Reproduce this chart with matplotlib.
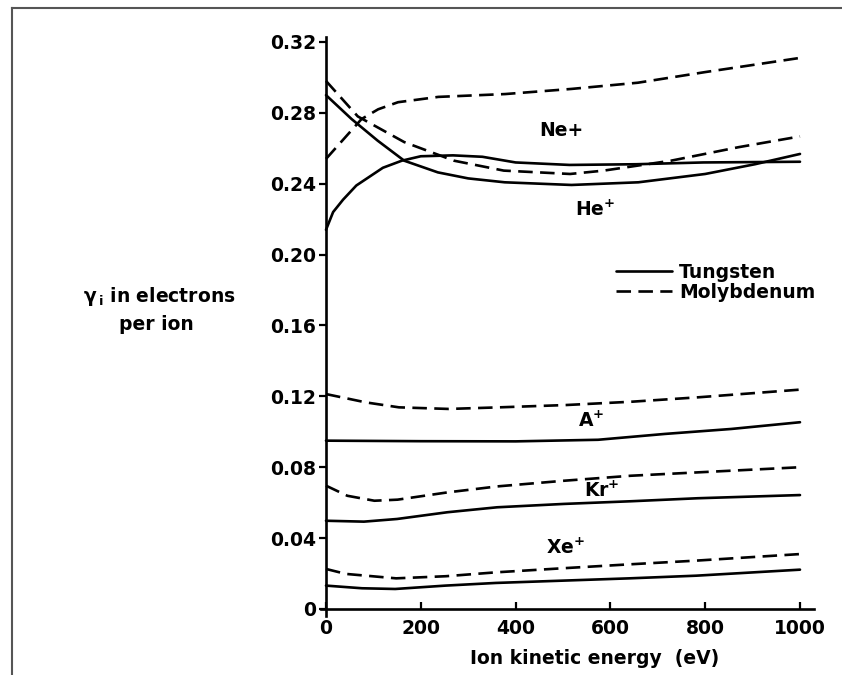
import matplotlib
matplotlib.use("Agg")
import matplotlib.pyplot as plt
from matplotlib.lines import Line2D

# ---- data ----
he_w_E = [0, 54, 109, 165, 236, 300, 377, 518, 659, 800, 905, 1000]
he_w_g = [0.290, 0.2765, 0.2643, 0.253, 0.2464, 0.243, 0.2408, 0.2393, 0.2408, 0.2455, 0.251, 0.2568]

he_mo_E = [0, 67, 165, 270, 375, 515, 586, 728, 870, 1000]
he_mo_g = [0.298, 0.278, 0.2635, 0.253, 0.2474, 0.2455, 0.2474, 0.253, 0.2606, 0.2667]

ne_mo_E = [0, 40, 75, 110, 152, 237, 378, 518, 658, 800, 1000]
ne_mo_g = [0.254, 0.266, 0.2765, 0.282, 0.286, 0.289, 0.2906, 0.2935, 0.297, 0.303, 0.311]

ne_w_E = [0, 15, 36, 64, 92, 120, 160, 200, 268, 330, 400, 514, 655, 796, 1000]
ne_w_g = [0.214, 0.224, 0.231, 0.239, 0.244, 0.249, 0.253, 0.2555, 0.256, 0.2552, 0.252, 0.2506, 0.251, 0.252, 0.2524]

a_mo_E = [0, 84, 154, 259, 365, 506, 646, 787, 1000]
a_mo_g = [0.1213, 0.1166, 0.1138, 0.1129, 0.1138, 0.1151, 0.117, 0.1195, 0.1238]

a_w_E = [0, 200, 400, 574, 715, 855, 1000]
a_w_g = [0.095, 0.0947, 0.0946, 0.0955, 0.0988, 0.1016, 0.1054]

kr_mo_E = [0, 45, 102, 151, 256, 362, 503, 643, 784, 1000]
kr_mo_g = [0.0696, 0.0639, 0.0611, 0.0617, 0.0658, 0.0692, 0.0724, 0.0752, 0.0771, 0.080]

kr_w_E = [0, 80, 150, 256, 361, 502, 643, 784, 1000]
kr_w_g = [0.0498, 0.0493, 0.0508, 0.0546, 0.0574, 0.0593, 0.0608, 0.0625, 0.0643]

xe_mo_E = [0, 42, 148, 253, 359, 500, 640, 781, 1000]
xe_mo_g = [0.0226, 0.0198, 0.0173, 0.0185, 0.0207, 0.023, 0.0252, 0.0273, 0.031]

xe_w_E = [0, 76, 146, 252, 358, 499, 640, 781, 1000]
xe_w_g = [0.0132, 0.0117, 0.0113, 0.0132, 0.0147, 0.016, 0.0173, 0.0188, 0.0222]

x_ticks = [0, 200, 400, 600, 800, 1000]
x_ticklabels = ["0", "200", "400", "600", "800", "1000"]
y_ticks = [0, 0.04, 0.08, 0.12, 0.16, 0.20, 0.24, 0.28, 0.32]
y_ticklabels = ["0", "0.04", "0.08", "0.12", "0.16", "0.20", "0.24", "0.28", "0.32"]

ion_labels = ["Ne+", r"$\mathbf{He}^{\mathbf{+}}$", r"$\mathbf{A}^{\mathbf{+}}$",
              r"$\mathbf{Kr}^{\mathbf{+}}$", r"$\mathbf{Xe}^{\mathbf{+}}$"]
ion_label_E = [496, 567, 560, 581, 506]
ion_label_g = [0.270, 0.225, 0.106, 0.0665, 0.0345]

legend_labels = ["Tungsten", "Molybdenum"]

# ---- figure ----
W, H = 842, 675
fig = plt.figure(figsize=(W / 100, H / 100), dpi=100)
fig.patch.set_facecolor("white")

FS = 13.5
plt.rcParams["font.family"] = ["DejaVu Sans"]
plt.rcParams["mathtext.fontset"] = "dejavusans"

# axes placement in pixels
x0px, ppx = 326.0, 0.474          # px of E=0, px per eV
y0px, ppy = 609.0, 1772.0         # px of gamma=0, px per unit
xlim = (-10, 1030)
ylim = (-0.004, 0.323)
left = x0px + xlim[0] * ppx
right = x0px + xlim[1] * ppx
bottom = y0px - ylim[0] * ppy
top = y0px - ylim[1] * ppy
ax = fig.add_axes([left / W, 1 - bottom / H, (right - left) / W, (bottom - top) / H])
ax.set_xlim(*xlim)
ax.set_ylim(*ylim)
ax.patch.set_alpha(0)

LW = 1.9
solid = dict(color="black", lw=LW, solid_capstyle="round", solid_joinstyle="round")
dashed = dict(color="black", lw=LW, dashes=(5.5, 2.8), dash_capstyle="butt")

ax.plot(he_w_E, he_w_g, **solid)
ax.plot(ne_w_E, ne_w_g, **solid)
ax.plot(a_w_E, a_w_g, **solid)
ax.plot(kr_w_E, kr_w_g, **solid)
ax.plot(xe_w_E, xe_w_g, **solid)
ax.plot(he_mo_E, he_mo_g, **dashed)
ax.plot(ne_mo_E, ne_mo_g, **dashed)
ax.plot(a_mo_E, a_mo_g, **dashed)
ax.plot(kr_mo_E, kr_mo_g, **dashed)
ax.plot(xe_mo_E, xe_mo_g, **dashed)

for lab, e, g in zip(ion_labels, ion_label_E, ion_label_g):
    ax.text(e, g, lab, ha="center", va="center", fontsize=FS, fontweight="bold", color="black")

# spines
for s in ["top", "right"]:
    ax.spines[s].set_visible(False)
ax.spines["left"].set_position(("data", 0))
ax.spines["bottom"].set_position(("data", 0))
ax.spines["left"].set_linewidth(1.9)
ax.spines["bottom"].set_linewidth(1.9)

ax.set_xticks(x_ticks)
ax.set_xticklabels(x_ticklabels)
ax.set_yticks(y_ticks)
ax.set_yticklabels(y_ticklabels)
ax.tick_params(axis="x", direction="in", length=5, width=1.6, pad=7, labelsize=FS)
ax.tick_params(axis="y", direction="out", length=5, width=1.6, pad=2, labelsize=FS)
for t in ax.get_xticklabels() + ax.get_yticklabels():
    t.set_fontweight("bold")

# axis labels as figure text
fig.text(595 / W, 1 - 659 / H, "Ion kinetic energy  (eV)", ha="center", va="center",
         fontsize=FS, fontweight="bold")
fig.text(159 / W, 1 - 297 / H, r"$\mathbf{\gamma}_{\,\mathbf{i}}$ in electrons", ha="center", va="center",
         fontsize=FS, fontweight="bold")
fig.text(156 / W, 1 - 325 / H, "per ion", ha="center", va="center",
         fontsize=FS, fontweight="bold")

# legend
handles = [Line2D([], [], **solid), Line2D([], [], **dashed)]
leg = ax.legend(handles, legend_labels, loc="upper left",
                bbox_to_anchor=(616 / W, 1 - 263 / H), bbox_transform=fig.transFigure,
                frameon=False, handlelength=3.0, handletextpad=0.35, labelspacing=0.05,
                borderpad=0, borderaxespad=0, prop=dict(size=FS, weight="bold"))

# scanned page frame
fig.add_artist(Line2D([12 / W, 12 / W], [0, 1 - 8 / H], transform=fig.transFigure,
                      color="#555555", lw=1.5))
fig.add_artist(Line2D([12 / W, 1], [1 - 8 / H, 1 - 8 / H], transform=fig.transFigure,
                      color="#555555", lw=1.5))

fig.savefig("out.png", dpi=100, facecolor="white")
